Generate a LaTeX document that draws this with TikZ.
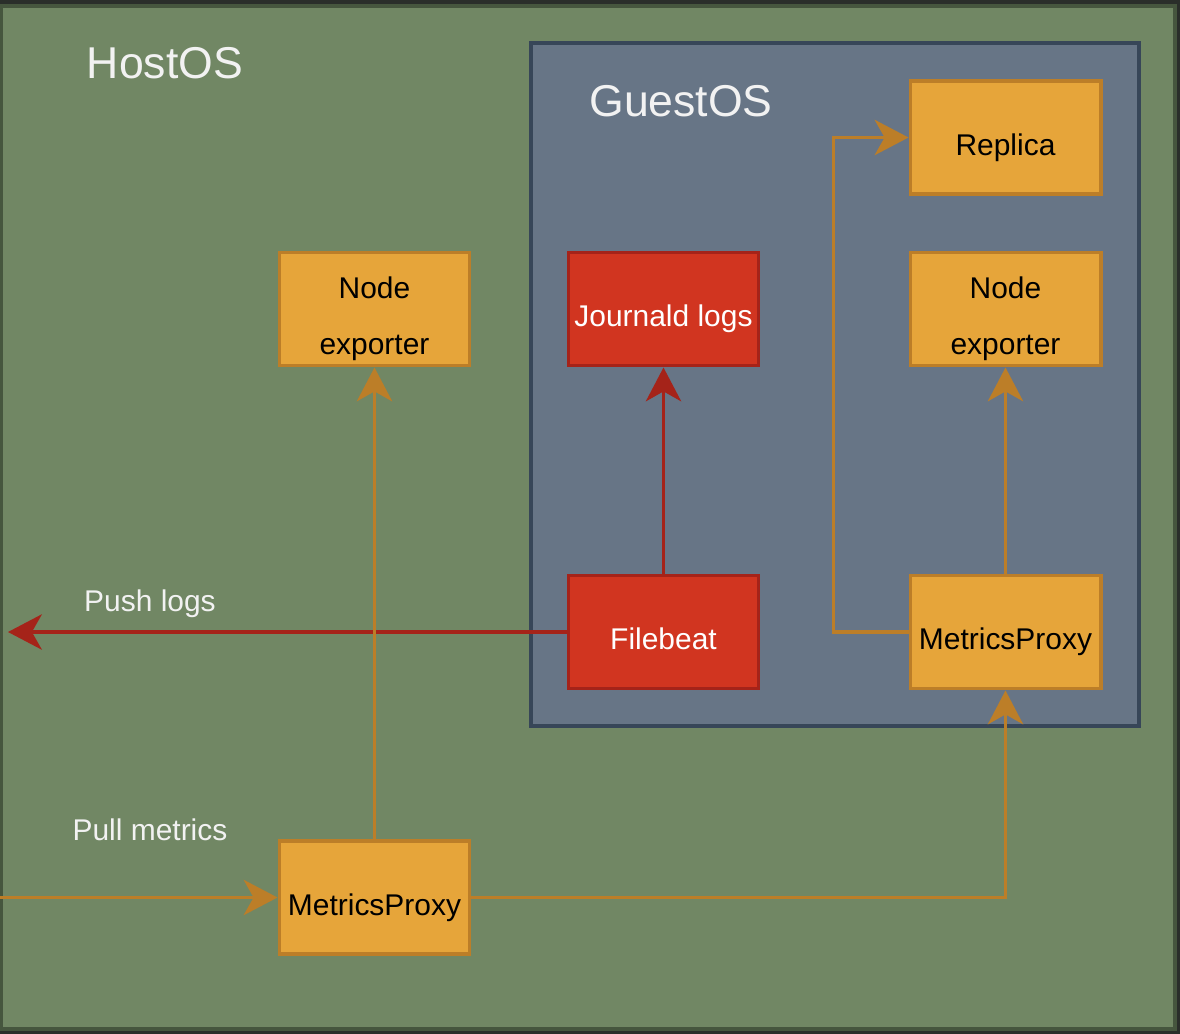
\documentclass[tikz,border=0pt]{standalone}
\usepackage{fontspec}
\setmainfont{Liberation Sans}
\usetikzlibrary{arrows.meta}
\definecolor{outerbg}{RGB}{42,46,42}
\definecolor{hostfill}{RGB}{113,135,100}
\definecolor{hostline}{RGB}{70,86,62}
\definecolor{guestfill}{RGB}{103,117,134}
\definecolor{guestline}{RGB}{55,70,88}
\definecolor{orfill}{RGB}{230,165,58}
\definecolor{orline}{RGB}{188,126,40}
\definecolor{redfill}{RGB}{209,53,32}
\definecolor{redline}{RGB}{165,35,25}
\definecolor{lbl}{RGB}{242,242,242}
\tikzset{
  lblfont/.style={font=\fontsize{21.3pt}{40pt}\selectfont},
  titlefont/.style={font=\fontsize{31.7pt}{36pt}\selectfont, text=lbl},
  boxbase/.style={line width=2.8pt, minimum width=4.75cm, minimum height=2.825cm, inner sep=0pt},
  obox/.style={boxbase, draw=orline, fill=orfill},
  rbox/.style={boxbase, draw=redline, fill=redfill},
  otext/.style={label={[lblfont, text=black, align=center, yshift=-7pt]center:#1}},
  rtext/.style={label={[lblfont, text=white, align=center, yshift=-7pt]center:#1}},
  rtextnd/.style={label={[lblfont, text=white, align=center, yshift=-5pt]center:#1}},
  oarrow/.style={draw=orline, line width=2.8pt, -{Stealth[length=24pt, width=25pt, inset=7pt]}},
  rarrow/.style={draw=redline, line width=2.8pt, -{Stealth[length=24pt, width=25pt, inset=7pt]}},
  tlabel/.style={lblfont, text=lbl}
}
\begin{document}
\begin{tikzpicture}[x=0.025cm, y=-0.025cm]
\useasboundingbox (0,0) rectangle (1180,1034);
\fill[outerbg] (0,0) rectangle (1180,1034);
\draw[fill=hostfill, draw=hostline, line width=2.8pt] (1.5,6) rectangle (1175,1029);
\node[titlefont] (hosttitle) at (165,63) {HostOS};
\node[draw=guestline, fill=guestfill, line width=2.8pt, minimum width=15.2cm, minimum height=17.075cm, inner sep=0pt] (guest) at (835,384.5) {};
\node[titlefont] (guesttitle) at (681,101) {GuestOS};

\node[obox, otext={Replica}] (rep) at (1005.5,137.5) {};
\node[obox, otext={Node\\exporter}] (neg) at (1005.5,309) {};
\node[obox, otext={Node\\exporter}] (neh) at (374.5,309) {};
\node[rbox, rtext={Journald logs}] (jl) at (663.5,309) {};
\node[rbox, rtextnd={Filebeat}] (fb) at (663.5,632) {};
\node[obox, otext={MetricsProxy}] (mpg) at (1005.5,632) {};
\node[obox, otext={MetricsProxy}] (mph) at (374.5,897.5) {};

\node[tlabel] (pushlbl) at (150,604) {Push logs};
\node[tlabel] (pulllbl) at (150,830) {Pull metrics};

\coordinate (pushend) at (8,632);
\coordinate (pullstart) at (0,897.5);

\draw[rarrow] (fb.west) -- (pushend);
\draw[rarrow] (fb.north) -- (jl.south);
\draw[oarrow] (mpg.north) -- (neg.south);
\draw[oarrow] (mpg.west) -- ++(-75,0) |- (rep.west);
\draw[oarrow] (mph.north) -- (neh.south);
\draw[oarrow] (mph.east) -| (mpg.south);
\draw[oarrow] (pullstart) -- (mph.west);
\end{tikzpicture}
\end{document}
